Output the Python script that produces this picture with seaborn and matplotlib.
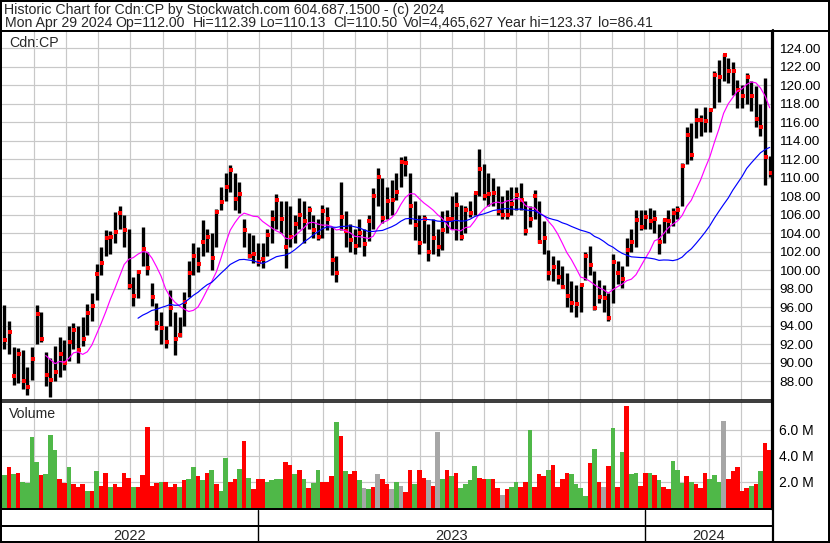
import numpy as np
import pandas as pd
import matplotlib
matplotlib.use("Agg")
import matplotlib.pyplot as plt
import seaborn as sns
from matplotlib.lines import Line2D
from matplotlib.patches import Rectangle

# ---------------- data (3-trading-day bars, May 2022 - Apr 29 2024) ----------------
hi = [
    96.2, 94.5, 91.7, 91.6, 91.4, 89.5, 91.7, 96.2, 95.5, 91.2,
    90.5, 91.8, 92.8, 92.5, 94.0, 94.3, 94.0, 95.0, 96.4, 97.5,
    100.7, 102.5, 104.4, 104.2, 106.3, 106.9, 106.0, 104.5, 99.3, 100.0,
    104.7, 102.0, 98.6, 96.5, 95.5, 94.0, 97.9, 95.5, 95.0, 97.7,
    101.0, 102.9, 102.5, 105.4, 104.5, 104.0, 106.6, 109.0, 110.5, 111.4,
    110.5, 109.5, 105.6, 104.0, 103.8, 103.0, 102.9, 104.5, 106.5, 108.2,
    107.5, 107.5, 106.9, 106.0, 107.8, 107.5, 107.0, 106.0, 105.5, 107.1,
    106.8, 104.7, 101.5, 109.6, 106.4, 105.0, 104.5, 105.5, 104.5, 106.0,
    108.9, 111.1, 110.0, 109.0, 109.8, 110.5, 112.2, 112.4, 110.5, 107.5,
    106.0, 106.0, 105.0, 105.5, 104.5, 106.4, 106.5, 108.0, 108.5, 107.1,
    107.0, 107.5, 108.4, 113.1, 111.5, 110.5, 110.0, 109.1, 108.0, 108.7,
    109.0, 109.0, 109.4, 107.5, 107.0, 108.7, 107.5, 105.3, 102.2, 101.5,
    101.1, 100.5, 99.7, 98.8, 98.4, 98.5, 102.0, 102.6, 99.9, 99.0,
    98.4, 97.5, 101.8, 101.0, 100.5, 103.5, 104.5, 106.5, 106.5, 106.5,
    106.7, 106.5, 105.0, 105.5, 106.5, 106.7, 107.0, 111.6, 115.5, 115.9,
    117.5, 116.8, 117.7, 117.5, 121.5, 122.7, 123.4, 123.0, 122.5, 120.6,
    120.0, 121.3, 120.5, 119.9, 118.0, 120.8, 112.39]
lo = [
    91.5, 91.0, 87.6, 87.8, 87.2, 86.5, 88.1, 92.0, 92.3, 87.5,
    86.3, 88.0, 88.5, 89.2, 90.2, 91.5, 90.0, 91.8, 93.0, 94.5,
    96.8, 99.5, 101.5, 101.8, 103.0, 104.5, 102.5, 98.0, 96.1, 97.0,
    100.5, 99.5, 96.1, 93.5, 92.0, 91.6, 94.0, 90.8, 92.8, 94.0,
    97.1, 99.5, 99.8, 101.5, 102.0, 100.0, 102.5, 106.5, 107.5, 108.5,
    106.5, 106.2, 102.5, 101.3, 100.8, 100.5, 100.3, 101.5, 103.0, 104.5,
    104.0, 100.2, 102.5, 103.0, 104.5, 103.0, 104.5, 103.5, 103.3, 103.5,
    104.4, 99.5, 98.7, 104.4, 102.5, 102.0, 101.8, 102.5, 101.6, 103.2,
    104.5, 107.0, 105.1, 105.5, 106.0, 107.6, 109.0, 110.2, 105.0, 103.3,
    101.8, 103.0, 101.0, 101.8, 101.5, 102.2, 104.0, 104.5, 103.3, 103.3,
    104.0, 105.8, 106.0, 108.0, 107.6, 107.0, 106.9, 106.0, 105.5, 105.6,
    106.0, 106.5, 106.5, 103.8, 104.7, 105.5, 103.0, 101.8, 99.0, 98.8,
    98.5, 98.1, 96.0, 95.5, 95.0, 95.5, 99.0, 99.5, 95.7, 96.5,
    95.5, 94.5, 96.5, 98.5, 98.1, 100.5, 102.0, 102.5, 104.4, 104.5,
    104.5, 104.0, 101.8, 103.0, 104.0, 104.8, 105.5, 106.9, 111.5, 111.9,
    114.3, 114.5, 115.0, 115.0, 117.5, 118.2, 120.5, 120.2, 119.0, 117.5,
    117.6, 118.0, 117.2, 115.5, 114.5, 109.2, 110.13]
close = [
    92.5, 93.3, 88.6, 91.0, 88.0, 87.4, 90.4, 95.3, 92.6, 88.7,
    88.1, 89.0, 91.0, 90.0, 92.2, 93.5, 91.4, 92.6, 95.4, 96.1,
    99.6, 100.8, 103.5, 103.6, 104.1, 106.2, 104.4, 98.3, 97.2, 99.8,
    102.3, 100.3, 97.1, 94.3, 93.8, 92.2, 95.9, 92.6, 93.0, 96.6,
    99.7, 101.5, 100.7, 103.1, 103.6, 101.3, 106.3, 107.4, 109.0, 110.8,
    107.7, 108.2, 104.4, 101.5, 101.8, 100.9, 101.2, 103.8, 105.5, 107.6,
    105.5, 102.5, 103.6, 105.0, 106.0, 105.3, 106.5, 104.4, 103.6, 106.4,
    105.6, 101.1, 99.7, 105.8, 104.2, 103.3, 102.6, 104.0, 102.8, 105.3,
    108.0, 110.1, 105.7, 107.5, 107.6, 108.5, 111.7, 111.6, 106.9, 104.9,
    102.9, 105.5, 102.0, 103.5, 102.5, 104.4, 105.6, 105.5, 107.1, 103.6,
    106.5, 106.2, 108.4, 110.9, 108.0, 108.2, 108.4, 106.4, 106.0, 106.0,
    107.2, 108.1, 107.6, 104.2, 105.6, 108.0, 103.1, 103.5, 99.7, 100.4,
    99.3, 98.2, 97.2, 96.5, 96.4, 98.4, 101.5, 100.6, 95.9, 97.1,
    97.0, 94.8, 100.9, 99.7, 99.1, 102.2, 103.1, 105.4, 104.7, 105.8,
    105.3, 105.6, 103.1, 105.4, 105.3, 106.2, 106.5, 111.3, 114.6, 112.5,
    116.3, 116.3, 116.1, 117.3, 121.1, 120.9, 123.3, 121.5, 121.5, 119.5,
    118.8, 120.9, 118.8, 116.4, 115.5, 112.3, 110.5]
volume_m = [
    2.5, 3.1, 2.6, 2.7, 2.0, 1.9, 5.4, 3.5, 2.5, 2.6,
    5.6, 4.4, 2.2, 1.9, 3.1, 1.8, 1.6, 1.8, 1.3, 1.3,
    2.8, 1.7, 2.7, 1.6, 1.8, 1.6, 2.7, 2.3, 1.6, 1.6,
    2.5, 6.2, 1.7, 1.9, 2.0, 2.0, 1.6, 1.8, 1.6, 2.1,
    2.2, 3.1, 2.4, 2.1, 2.7, 2.9, 1.8, 1.3, 3.8, 2.0,
    2.2, 3.0, 5.1, 2.3, 1.4, 2.2, 2.2, 2.0, 2.1, 2.2,
    2.2, 3.5, 3.3, 2.6, 2.9, 2.2, 1.5, 1.9, 2.9, 2.0,
    2.0, 2.4, 6.6, 5.5, 2.8, 2.6, 2.8, 2.1, 1.5, 1.4,
    1.6, 2.6, 2.2, 1.8, 1.4, 2.0, 1.7, 1.2, 2.9, 1.8,
    2.9, 2.3, 2.1, 1.7, 5.8, 2.2, 2.9, 2.4, 2.7, 1.5,
    1.8, 2.1, 3.2, 2.3, 2.2, 2.2, 2.2, 1.5, 1.0, 1.4,
    1.6, 2.0, 1.6, 2.0, 6.0, 1.6, 2.6, 2.4, 2.9, 3.3,
    1.6, 2.2, 2.7, 2.6, 1.8, 1.5, 0.9, 3.4, 4.5, 2.0,
    1.6, 3.2, 6.1, 1.6, 4.3, 7.8, 2.6, 2.7, 1.7, 2.7,
    2.7, 2.5, 2.1, 1.6, 1.4, 3.6, 2.9, 1.9, 2.4, 2.0,
    1.8, 1.5, 2.7, 2.2, 2.5, 2.0, 6.7, 2.2, 2.8, 3.1,
    1.3, 1.5, 1.7, 1.8, 2.8, 5.0, 4.47]
# g = up day, r = down day, a = unchanged
volume_dir = list(
    "grgrggggrg" "ggrrgrrrgr" "grrgrrrrgr" "rrrrgrrrgr" "ggrgrgrggr"
    "rgrgrrrggg" "grrgrgrggr" "rrgrgrrgag" "rarragarrg" "rraragrgrg"
    "gggrrgrrar" "ggrrgrrrgr" "rrrggggrgr" "argrgrggrr" "grgrrgggrg"
    "rrrgggarrr" "rrgrgrr")

price_ticks = list(range(88, 125, 2))
volume_ticks = [2, 4, 6]
years = ["2022", "2023", "2024"]

title1 = "Historic Chart for Cdn:CP by Stockwatch.com 604.687.1500 - (c) 2024"
title2_fields = ["Mon Apr 29 2024", "Op=112.00", "Hi=112.39", "Lo=110.13",
                 "Cl=110.50", "Vol=4,465,627", "Year hi=123.37", "lo=86.41"]
title2_x = [5, 115, 193, 260, 333, 403, 497, 598]   # pixel positions of fields

# ---------------- layout ----------------
sns.set_style("white")
plt.rcParams["font.family"] = ["Liberation Sans", "DejaVu Sans"]

W, H = 830, 543
fig = plt.figure(figsize=(W / 100, H / 100), dpi=100)
fig.patch.set_facecolor("white")


def fx(px):
    return px / W


def fy(py):
    return 1 - py / H


DAYS_PER_BAR = 3
MONTH = 20.9          # trading days per month column on the chart
n = len(close)
xpos = np.arange(n) * DAYS_PER_BAR + DAYS_PER_BAR / 2
XMAX = n * DAYS_PER_BAR
month_lines = [m * MONTH for m in range(1, 24)]

L, R = 2, 772
ax = fig.add_axes([fx(L), fy(400), fx(R) - fx(L), (400 - 31) / H])
axv = fig.add_axes([fx(L), fy(509), fx(R) - fx(L), (509 - 402) / H])

GRID = "#c8c8c8"
PX = 0.72  # points per pixel

for a in (ax, axv):
    a.set_facecolor("white")
    a.set_xlim(0, XMAX)
    a.set_xticks(month_lines)
    a.set_xticklabels([])
    a.tick_params(axis="x", length=0)
    a.yaxis.tick_right()
    a.tick_params(axis="y", length=0, pad=5, labelcolor="black")
    a.grid(True, color=GRID, lw=1.2 * PX)
    a.set_axisbelow(True)
    for s in a.spines.values():
        s.set_color("black")
    a.spines["left"].set_visible(False)
    a.spines["right"].set_linewidth(2.2 * PX)

ax.tick_params(axis="y", labelsize=9.7)
axv.tick_params(axis="y", labelsize=10)
ax.spines["top"].set_linewidth(2 * PX)
ax.spines["bottom"].set_linewidth(1.5 * PX)
axv.spines["top"].set_linewidth(1.5 * PX)
axv.spines["bottom"].set_linewidth(2 * PX)

# ---- price bars ----
ax.vlines(xpos, lo, hi, color="black", lw=2.4, zorder=2)
sns.scatterplot(x=xpos + 0.6, y=close, marker="s", s=7, color="#ff0000",
                linewidth=0, ax=ax, zorder=3)

ma_short = pd.Series(close).rolling(10).mean()
ma_long = pd.Series(close).rolling(30).mean()
df_ma = pd.DataFrame({"x": xpos, "short": ma_short, "long": ma_long})
sns.lineplot(data=df_ma.dropna(subset=["short"]), x="x", y="short",
             color="#ff00ff", lw=0.85, ax=ax, zorder=4)
sns.lineplot(data=df_ma.dropna(subset=["long"]), x="x", y="long",
             color="#0000ff", lw=0.85, ax=ax, zorder=4)

ax.set_xlim(0, XMAX)
ax.set_ylim(85.98, 125.87)
ax.set_yticks(price_ticks)
ax.set_yticklabels([f"{t:.2f}" for t in price_ticks])
ax.set_xlabel("")
ax.set_ylabel("")

# ---- volume ----
dir_name = {"g": "up", "r": "down", "a": "flat"}
vdf = pd.DataFrame({"x": xpos, "vol": volume_m,
                    "dir": [dir_name[c] for c in volume_dir]})
sns.barplot(data=vdf, x="x", y="vol", hue="dir", native_scale=True,
            dodge=False, width=1.0, errorbar=None, legend=False,
            palette={"up": "#4fb848", "down": "#ff0000", "flat": "#a6a6a6"},
            saturation=1, linewidth=0, ax=axv)
axv.set_xlim(0, XMAX)
axv.set_ylim(-0.1, 8.13)
axv.set_yticks(volume_ticks)
axv.set_yticklabels([f"{t:.1f} M" for t in volume_ticks])
axv.set_xticks(month_lines)
axv.set_xticklabels([])
axv.set_xlabel("")
axv.set_ylabel("")
axv.grid(True, color=GRID, lw=1.2 * PX)

# ---------------- texts ----------------
fs = 10.2
fig.text(fx(4), fy(14), title1, fontsize=fs, va="baseline", ha="left")
for xt, t in zip(title2_x, title2_fields):
    fig.text(fx(xt), fy(26.8), t, fontsize=fs, va="baseline", ha="left")
fig.text(fx(9), fy(46.5), "Cdn:CP", fontsize=fs, va="baseline", ha="left")
fig.text(fx(9), fy(418), "Volume", fontsize=fs, va="baseline", ha="left")

# frame lines
fig.add_artist(Line2D([0, 1], [fy(30.5)] * 2, color="black", lw=2 * PX))
fig.add_artist(Line2D([fx(0), fx(773)], [fy(525.5)] * 2, color="black", lw=2 * PX))
fig.add_artist(Line2D([fx(773), fx(773)], [fy(30), fy(543)], color="black", lw=2.2 * PX))
year_edges = [2, 258, 645, 772]
for xe in year_edges[1:-1]:
    fig.add_artist(Line2D([fx(xe)] * 2, [fy(510), fy(542)], color="black", lw=1.4 * PX))
for i, yl in enumerate(years):
    cx = (year_edges[i] + year_edges[i + 1]) / 2
    fig.text(fx(cx), fy(540.3), yl, fontsize=10.5, ha="center", va="baseline",
             family=["Liberation Sans Narrow", "Liberation Sans", "DejaVu Sans"])

fig.add_artist(Rectangle((0, 0), 1, 1, transform=fig.transFigure, fill=False,
                         edgecolor="black", lw=4 * PX))

fig.savefig("out.png", dpi=100, facecolor="white")
